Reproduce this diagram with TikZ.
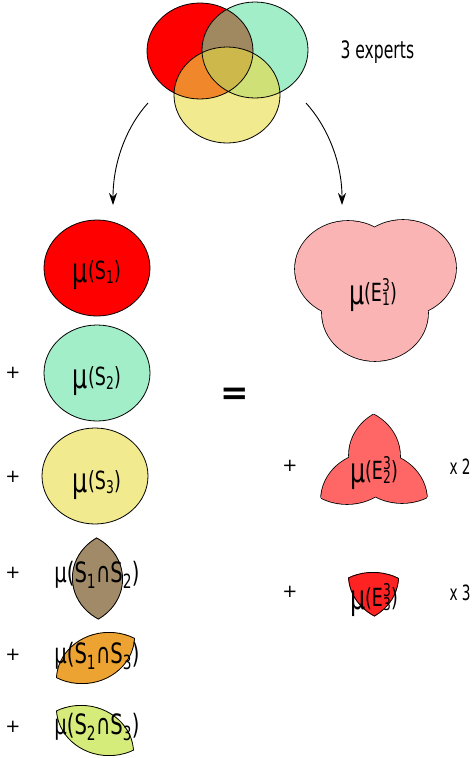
\documentclass[tikz,border=0pt]{standalone}
\usepackage{graphicx}
\usepackage{fontspec}
\setmainfont{DejaVu Sans}
\definecolor{vred}{RGB}{255,0,0}
\definecolor{vgreen}{RGB}{162,238,200}
\definecolor{vyellow}{RGB}{242,234,142}
\definecolor{vbrown}{RGB}{160,136,96}
\definecolor{vorange}{RGB}{240,135,42}
\definecolor{vlime}{RGB}{207,225,118}
\definecolor{vcore}{RGB}{205,184,76}
\definecolor{lbrown}{RGB}{160,138,104}
\definecolor{lorange}{RGB}{237,163,50}
\definecolor{llime}{RGB}{213,235,122}
\definecolor{epink}{RGB}{251,180,180}
\definecolor{esalmon}{RGB}{255,102,102}
\definecolor{escarlet}{RGB}{255,34,34}
\usetikzlibrary{arrows.meta}

\newcommand{\narrow}[2][0.7]{\scalebox{#1}[1]{#2}}
\newcommand{\mulabel}[1]{\narrow{\fontsize{34}{34}\selectfont μ\raisebox{3pt}{\fontsize{25}{25}\selectfont(#1)}}}
\newcommand{\lenslabel}[1]{\narrow{\fontsize{28}{28}\selectfont μ(#1)}}
\newcommand{\expt}[2]{E\rlap{\textsuperscript{#1}}\textsubscript{#2}}
% the three expert circles
\def\cirA{(200,51) ellipse [x radius=53, y radius=48]}
\def\cirB{(255,50) ellipse [x radius=53, y radius=48]}
\def\cirC{(227,95) ellipse [x radius=53, y radius=48]}

\begin{document}
\begin{tikzpicture}[x=1pt,y=-1pt,
    outline/.style={draw=black,line width=0.8pt},
    edge/.style={draw=black,line width=1.6pt},
    flow/.style={-{Stealth[length=12pt,width=8pt]},line width=0.9pt},
    plus/.style={font=\fontsize{18}{18}\selectfont},
    times/.style={anchor=base west,font=\fontsize{21}{21}\selectfont}]
  \useasboundingbox (0,0) rectangle (473,758);
  % Venn diagram of the experts
  \fill[vred] \cirA;
  \fill[vgreen] \cirB;
  \fill[vyellow] \cirC;
  \begin{scope}
    \clip \cirA;
    \fill[vbrown] \cirB;
    \fill[vorange] \cirC;
  \end{scope}
  \begin{scope}
    \clip \cirB;
    \fill[vlime] \cirC;
  \end{scope}
  \begin{scope}
    \clip \cirA; \clip \cirB;
    \fill[vcore] \cirC;
  \end{scope}
  \draw[outline] \cirA \cirB \cirC;
  \node[anchor=base west,font=\fontsize{24}{24}\selectfont] (experts) at (337,58) {\narrow[0.65]{3 experts}};
  % Arrows
  \coordinate (vl) at (148,103);
  \coordinate (sl) at (113,205);
  \coordinate (vr) at (306,103);
  \coordinate (er) at (342,205);
  \draw[flow] (vl) .. controls (128,125) and (113,160) .. (sl);
  \draw[flow] (vr) .. controls (326,125) and (342,160) .. (er);
  % Single sets
  \draw[outline,fill=vred] (97,268) ellipse [x radius=53, y radius=48];
  \draw[outline,fill=vgreen] (97,373) ellipse [x radius=53, y radius=48];
  \draw[outline,fill=vyellow] (95,476) ellipse [x radius=53, y radius=48];
  \node[anchor=base] (ls1) at (97,282) {\mulabel{S\textsubscript{1}}};
  \node[anchor=base] (ls2) at (97,388) {\mulabel{S\textsubscript{2}}};
  \node[anchor=base] (ls3) at (97,492) {\mulabel{S\textsubscript{3}}};
  % Pairwise intersections
  \begin{scope}[shift={(-130,528)}]
    \clip \cirA; \clip \cirB;
    \fill[lbrown] \cirA;
    \draw[edge] \cirA \cirB;
  \end{scope}
  \begin{scope}[shift={(-118,585)}]
    \clip \cirA; \clip \cirC;
    \fill[lorange] \cirA;
    \draw[edge] \cirA \cirC;
  \end{scope}
  \begin{scope}[shift={(-146,658)}]
    \clip \cirB; \clip \cirC;
    \fill[llime] \cirB;
    \draw[edge] \cirB \cirC;
  \end{scope}
  \node (l12) at (97,575) {\lenslabel{S\textsubscript{1}∩S\textsubscript{2}}};
  \node (l13) at (97,656) {\lenslabel{S\textsubscript{1}∩S\textsubscript{3}}};
  \node (l23) at (97,727) {\lenslabel{S\textsubscript{2}∩S\textsubscript{3}}};
  % Plus signs, left column
  \node[plus] (p2) at (13,373) {+};
  \node[plus] (p3) at (13,477) {+};
  \node[plus] (p12) at (13,573) {+};
  \node[plus] (p13) at (13,655) {+};
  \node[plus] (p23) at (13,727) {+};
  \node[font=\fontsize{34}{34}\selectfont\bfseries] (eq) at (235,396) {=};
  % E1: at least one expert
  \begin{scope}[shift={(148,218)}]
    \draw[edge] \cirA \cirB \cirC;
    \fill[epink] \cirA \cirB \cirC;
  \end{scope}
  % E2: at least two experts
  \begin{scope}[shift={(147,405)}]
    \begin{scope}
      \clip \cirA; \draw[edge] \cirB \cirC;
    \end{scope}
    \begin{scope}
      \clip \cirB; \draw[edge] \cirA \cirC;
    \end{scope}
    \begin{scope}
      \clip \cirC; \draw[edge] \cirA \cirB;
    \end{scope}
    \begin{scope}
      \clip \cirA; \fill[esalmon] \cirB \cirC;
    \end{scope}
    \begin{scope}
      \clip \cirB; \fill[esalmon] \cirC;
    \end{scope}
  \end{scope}
  % E3: all three experts
  \begin{scope}[shift={(146,525)}]
    \clip \cirA; \clip \cirB; \clip \cirC;
    \fill[escarlet] \cirC;
    \draw[edge] \cirA \cirB \cirC;
  \end{scope}
  \node[anchor=base] (le1) at (373,304) {\mulabel{\expt{3}{1}}};
  \node[anchor=base] (le2) at (374,482) {\mulabel{\expt{3}{2}}};
  \node[anchor=base] (le3) at (374,609) {\mulabel{\expt{3}{3}}};
  % Right column signs and counts
  \node[plus] (pe2) at (290,466) {+};
  \node[plus] (pe3) at (290,592) {+};
  \node[times] (t2) at (446,474) {\narrow[0.65]{x 2}};
  \node[times] (t3) at (446,600) {\narrow[0.65]{x 3}};
\end{tikzpicture}
\end{document}
